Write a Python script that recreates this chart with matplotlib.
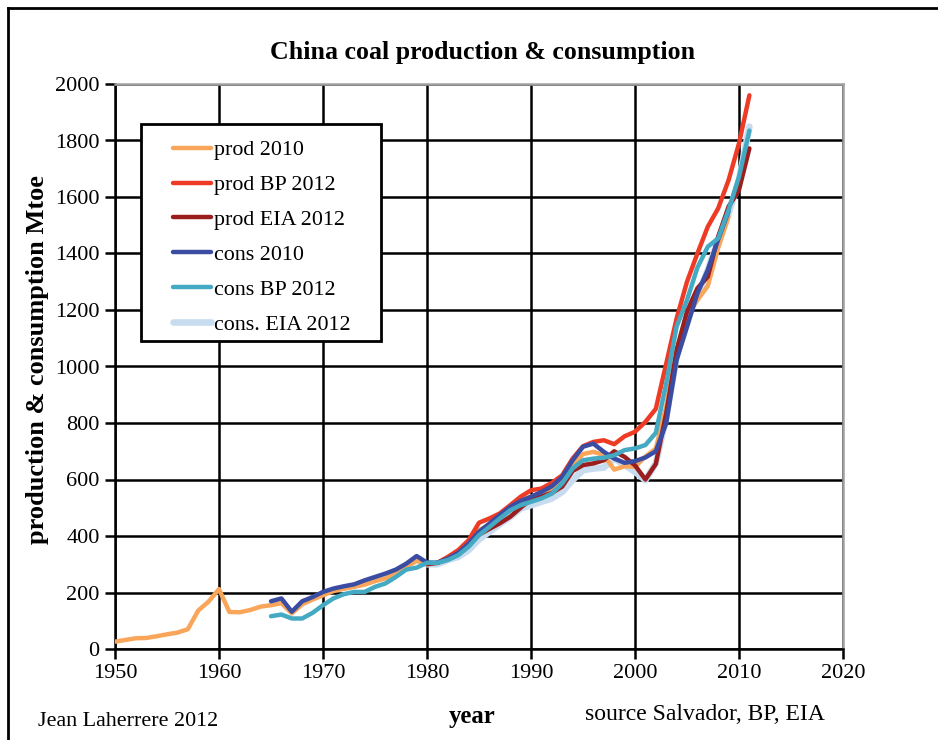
import matplotlib
matplotlib.use("Agg")
import matplotlib.pyplot as plt
from matplotlib.lines import Line2D
from matplotlib.patches import Rectangle

plt.rcParams['font.family'] = ['Liberation Serif', 'DejaVu Serif']

# ---- data (Mtoe) ----
prod2010_years = list(range(1950, 2010))
prod2010 = [26, 32, 38, 39, 45, 52, 58, 70, 136, 168,
            212, 131, 130, 138, 150, 155, 162, 126, 158, 175,
            190, 205, 213, 220, 228, 240, 250, 268, 290, 312,
            300, 305, 322, 345, 375, 420, 440, 465, 495, 525,
            540, 550, 565, 595, 650, 690, 698, 686, 635, 647,
            645, 681, 710, 858, 1058, 1180, 1235, 1285, 1420, 1530]

prodbp_years = list(range(1981, 2012))
prodbp = [305, 326, 350, 385, 447, 462, 480, 509, 539, 562,
          568, 588, 615, 674, 718, 733, 739, 725, 753, 769,
          804, 850, 1010, 1170, 1300, 1400, 1495, 1560, 1660, 1790, 1960]

prodeia_years = list(range(1980, 2012))
prodeia = [300, 305, 318, 338, 365, 405, 425, 445, 468, 500,
           530, 540, 552, 575, 630, 651, 657, 668, 700, 680,
           650, 600, 655, 834, 1058, 1195, 1277, 1318, 1460, 1566, 1625, 1772]

cons2010_years = list(range(1965, 2010))
cons2010 = [169, 179, 132, 169, 184, 202, 214, 222, 229, 243,
            255, 267, 281, 302, 329, 306, 305, 320, 340, 373,
            415, 444, 474, 503, 524, 539, 556, 576, 609, 668,
            716, 727, 698, 674, 659, 665, 678, 700, 799, 1023,
            1140, 1259, 1342, 1450, 1550]

consbp_years = list(range(1965, 2012))
consbp = [116, 122, 108, 108, 128, 155, 179, 194, 202, 202,
          220, 232, 255, 281, 288, 305, 305, 315, 332, 362,
          403, 432, 462, 491, 509, 521, 533, 550, 586, 639,
          668, 674, 677, 686, 704, 710, 722, 765, 940, 1141,
          1235, 1350, 1424, 1454, 1554, 1672, 1835]

conseia_years = list(range(1980, 2012))
conseia = [300, 300, 315, 326, 350, 388, 415, 442, 468, 497,
           509, 521, 533, 556, 598, 633, 639, 642, 674, 651,
           627, 598, 657, 822, 1035, 1176, 1247, 1342, 1448, 1542, 1660, 1849]

x_ticks = [1950, 1960, 1970, 1980, 1990, 2000, 2010, 2020]
y_ticks = [0, 200, 400, 600, 800, 1000, 1200, 1400, 1600, 1800, 2000]

# ---- figure ----
W, H = 938, 740
fig = plt.figure(figsize=(W / 100, H / 100), dpi=100)
ax = fig.add_axes([115 / W, 1 - 649 / H, (843 - 115) / W, (649 - 84) / H])

series = [
    ("prod 2010", prod2010_years, prod2010, "#F9A65A", 3.2, 3),
    ("prod BP 2012", prodbp_years, prodbp, "#EE3B26", 3.2, 3),
    ("prod EIA 2012", prodeia_years, prodeia, "#9B1E1E", 3.2, 3),
    ("cons 2010", cons2010_years, cons2010, "#3A4DA3", 3.2, 3),
    ("cons BP 2012", consbp_years, consbp, "#44A9C2", 3.2, 3),
    ("cons. EIA 2012", conseia_years, conseia, "#C8DCF0", 4.8, 2),
]
handles = []
for label, xs, ys, col, lw, z in series:
    h, = ax.plot(xs, ys, color=col, lw=lw, zorder=z, label=label,
                 solid_joinstyle='round', solid_capstyle='round')
    handles.append(h)

ax.set_xlim(1950, 2020)
ax.set_ylim(0, 2000)
ax.set_xticks(x_ticks)
ax.set_yticks(y_ticks)
ax.grid(True, color='black', lw=1.8, zorder=1)
ax.set_axisbelow(True)
for s in ['left', 'bottom']:
    ax.spines[s].set_color('black')
    ax.spines[s].set_linewidth(1.8)
for s in ['top', 'right']:
    ax.spines[s].set_color('#A0A0A0')
    ax.spines[s].set_linewidth(1.8)
ax.tick_params(axis='both', direction='out', length=7, width=1.8,
               labelsize=16, pad=4, color='black')

ax.set_ylabel("production & consumption Mtoe", fontsize=19, fontweight='bold')
ax.yaxis.set_label_coords(-66 / 728, (649 - 360) / 565)

# legend box: white panel with black border, entries placed inside it
box = Rectangle((141 / W, 1 - 341 / H), (381 - 141) / W, (341 - 124) / H,
                transform=fig.transFigure, facecolor='white', edgecolor='black',
                lw=2, zorder=9)
fig.add_artist(box)
leg = fig.legend(handles=handles, loc='upper left', bbox_to_anchor=(173 / W, 1 - 140 / H),
                 fontsize=15.8, frameon=False,
                 handlelength=1.75, handletextpad=0.12, labelspacing=0.66,
                 borderpad=0.0, borderaxespad=0)
leg.set_zorder(10)

fig.text(483 / W, 1 - 52 / H, "China coal production & consumption",
         ha='center', va='center', fontsize=18.6, fontweight='bold')
fig.text(472 / W, 1 - 716 / H, "year", ha='center', va='center',
         fontsize=17.8, fontweight='bold')
fig.text(585 / W, 1 - 714 / H, "source Salvador, BP, EIA", ha='left', va='center',
         fontsize=17)
fig.text(38 / W, 1 - 722 / H, "Jean Laherrere 2012", ha='left', va='center',
         fontsize=15.8)

# outer frame (left and top edges)
fig.add_artist(Line2D([8 / W, 8 / W], [0, 1 - 8 / H], color='black', lw=2,
                      transform=fig.transFigure))
fig.add_artist(Line2D([8 / W, 1], [1 - 8 / H, 1 - 8 / H], color='black', lw=2,
                      transform=fig.transFigure))

fig.savefig("out.png", dpi=100)
